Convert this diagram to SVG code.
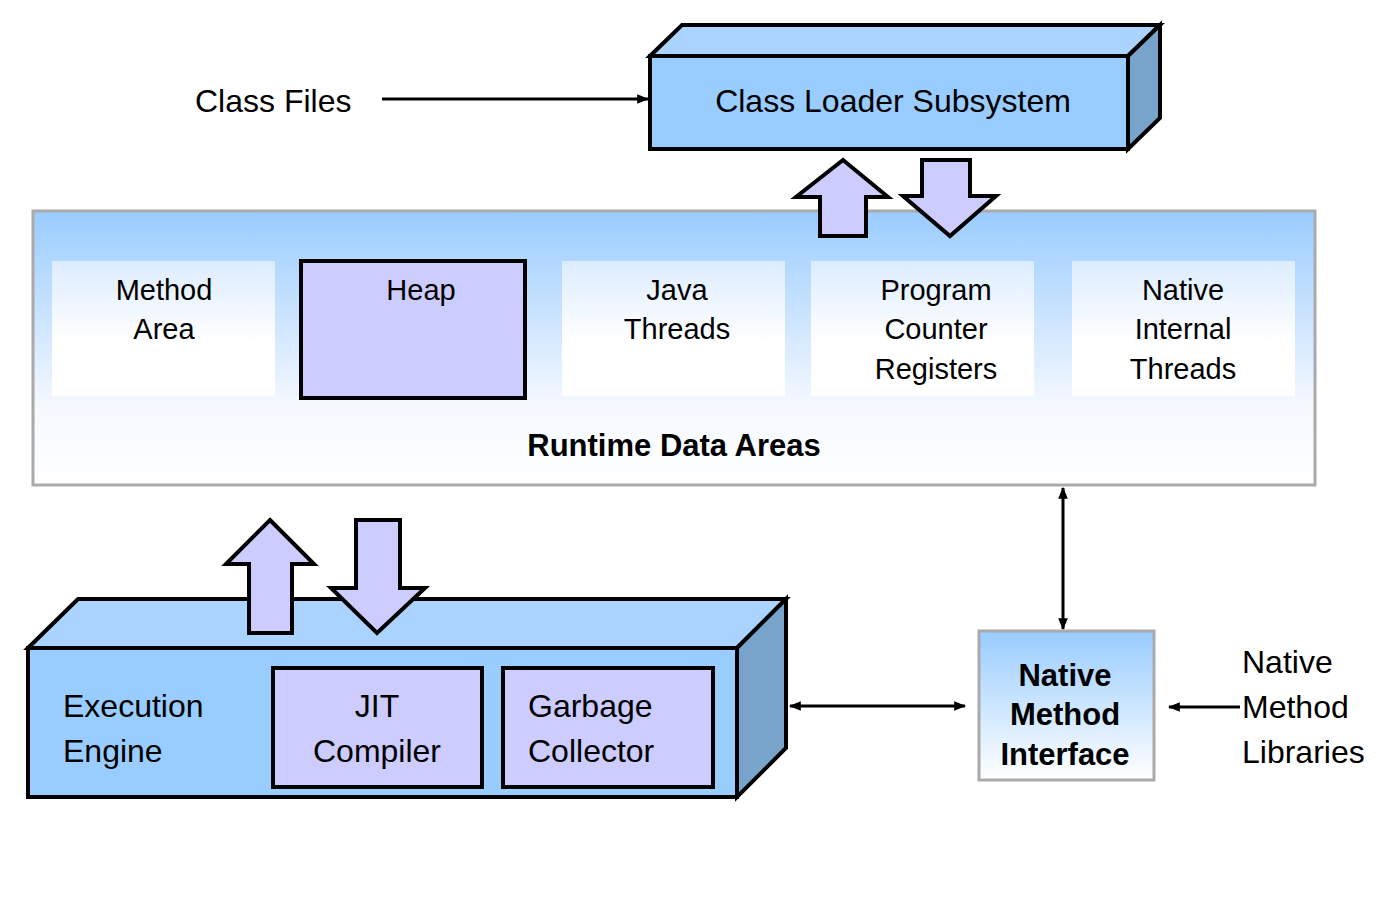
<svg xmlns="http://www.w3.org/2000/svg" width="1400" height="904" viewBox="0 0 1400 904">
<style>
text{font-family:"Liberation Sans",Arial,sans-serif;fill:#000}
.t{font-size:32px}.s{font-size:29px}.b{font-weight:bold;font-size:31px}
.blk{stroke:#000;stroke-width:4;stroke-linejoin:miter}
.lav{fill:#ccccff;stroke:#000;stroke-width:4}
.ln{stroke:#000;stroke-width:3;fill:none}
</style>
<defs>
<linearGradient id="rg" x1="0" y1="0" x2="0" y2="1"><stop offset="0" stop-color="#99ccff"/><stop offset="0.7" stop-color="#f4f8ff"/><stop offset="1" stop-color="#ffffff"/></linearGradient>
<linearGradient id="ig" x1="0" y1="0" x2="0" y2="1"><stop offset="0" stop-color="#dcecff"/><stop offset="0.6" stop-color="#ffffff"/><stop offset="1" stop-color="#ffffff"/></linearGradient>
<linearGradient id="ng" x1="0" y1="0" x2="0" y2="1"><stop offset="0" stop-color="#99ccff"/><stop offset="1" stop-color="#ffffff"/></linearGradient>
<marker id="a" viewBox="0 0 10 10" refX="9" refY="5" markerWidth="4" markerHeight="4" orient="auto-start-reverse"><path d="M0,1 L10,5 L0,9z" fill="#000"/></marker>
</defs>
<g id="connectors">
<line class="ln" x1="382" y1="99" x2="648" y2="99" marker-end="url(#a)"/>
<line class="ln" x1="1063" y1="488" x2="1063" y2="629" marker-start="url(#a)" marker-end="url(#a)"/>
<line class="ln" x1="790" y1="706" x2="965" y2="706" marker-start="url(#a)" marker-end="url(#a)"/>
<line class="ln" x1="1240" y1="707" x2="1169" y2="707" marker-end="url(#a)"/>
</g>
<g id="class-files"><text class="t" x="195" y="112">Class Files</text></g>
<g id="class-loader">
<polygon class="blk" points="650,56 682,25 1160,25 1128,56" fill="#aad4ff"/>
<polygon class="blk" points="1128,56 1160,25 1160,118 1128,149" fill="#78a4cc"/>
<rect class="blk" x="650" y="56" width="478" height="93" fill="#99ccff"/>
<text class="t" x="893" y="112" text-anchor="middle">Class Loader Subsystem</text>
</g>
<g id="runtime-data-areas">
<rect x="33" y="211" width="1282" height="274" fill="url(#rg)" stroke="#aaa" stroke-width="3"/>
<rect x="52" y="261" width="223" height="135" fill="url(#ig)"/>
<text class="s" x="164" y="300" text-anchor="middle">Method</text><text class="s" x="164" y="339" text-anchor="middle">Area</text>
<rect class="lav" x="301" y="261" width="224" height="137"/>
<text class="s" x="421" y="300" text-anchor="middle">Heap</text>
<rect x="562" y="261" width="223" height="135" fill="url(#ig)"/>
<text class="s" x="677" y="300" text-anchor="middle">Java</text><text class="s" x="677" y="339" text-anchor="middle">Threads</text>
<rect x="811" y="261" width="223" height="135" fill="url(#ig)"/>
<text class="s" x="936" y="300" text-anchor="middle">Program</text><text class="s" x="936" y="339" text-anchor="middle">Counter</text><text class="s" x="936" y="379" text-anchor="middle">Registers</text>
<rect x="1072" y="261" width="223" height="135" fill="url(#ig)"/>
<text class="s" x="1183" y="300" text-anchor="middle">Native</text><text class="s" x="1183" y="339" text-anchor="middle">Internal</text><text class="s" x="1183" y="379" text-anchor="middle">Threads</text>
<text class="b" x="674" y="456" text-anchor="middle">Runtime Data Areas</text>
</g>
<g id="loader-arrows">
<polygon class="lav" points="843,160 888,197 866,197 866,236 820,236 820,197 796,197"/>
<polygon class="lav" points="922,160 970,160 970,196 996,196 950,236 903,196 922,196"/>
</g>
<g id="execution-engine">
<polygon class="blk" points="28,648 78,599 786,599 737,648" fill="#aad4ff"/>
<polygon class="blk" points="737,648 786,599 786,748 737,797" fill="#78a4cc"/>
<rect class="blk" x="28" y="648" width="709" height="149" fill="#99ccff"/>
<text class="t" x="63" y="717">Execution</text><text class="t" x="63" y="762">Engine</text>
<rect class="lav" x="273" y="668" width="209" height="119"/>
<text class="t" x="377" y="717" text-anchor="middle">JIT</text><text class="t" x="377" y="762" text-anchor="middle">Compiler</text>
<rect class="lav" x="503" y="668" width="210" height="119"/>
<text class="t" x="528" y="717">Garbage</text><text class="t" x="528" y="762">Collector</text>
</g>
<g id="engine-arrows">
<polygon class="lav" points="270,520 314,564 292,564 292,633 249,633 249,564 226,564"/>
<polygon class="lav" points="356,520 400,520 400,588 425,588 377,633 331,588 356,588"/>
</g>
<g id="native-method-interface">
<rect x="979" y="631" width="175" height="149" fill="url(#ng)" stroke="#aaa" stroke-width="3"/>
<text class="b" x="1065" y="686" text-anchor="middle">Native</text><text class="b" x="1065" y="725" text-anchor="middle">Method</text><text class="b" x="1065" y="765" text-anchor="middle">Interface</text>
</g>
<g id="native-method-libraries">
<text class="t" x="1242" y="673">Native</text><text class="t" x="1242" y="718">Method</text><text class="t" x="1242" y="763">Libraries</text>
</g>
</svg>
